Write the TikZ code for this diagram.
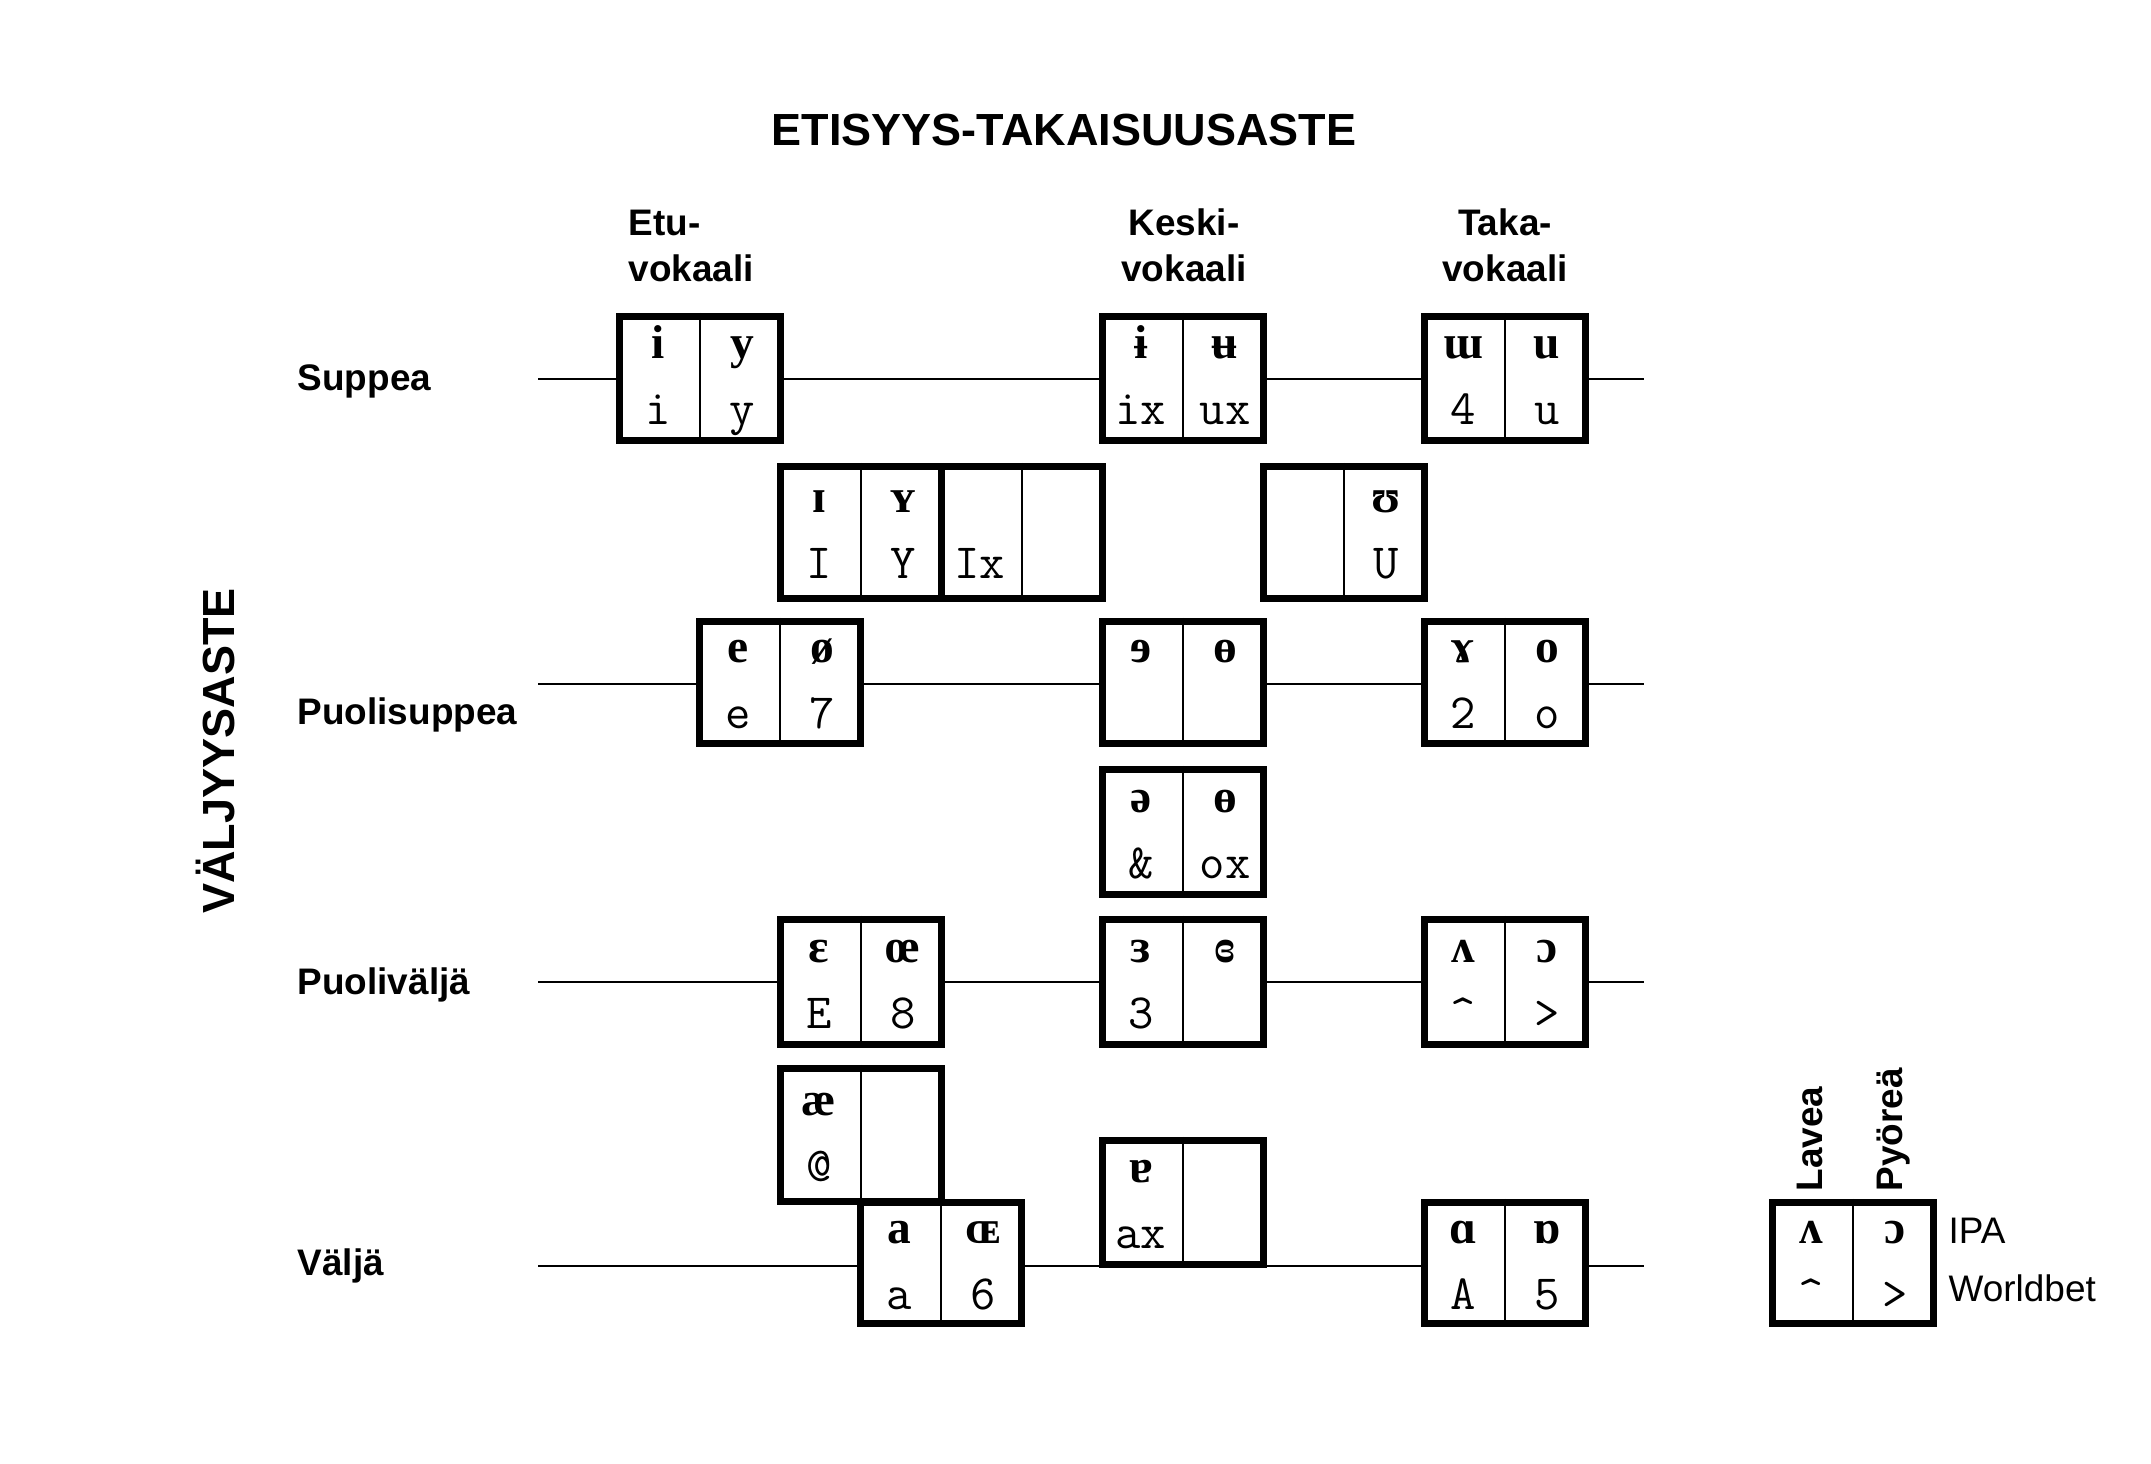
\documentclass[tikz,border=0pt]{standalone}
\usepackage{fontspec}
\setmainfont{Liberation Sans}
\newfontfamily\ipafont{Liberation Serif}

\tikzset{
  laatikko/.style={draw, line width=1.9pt, fill=white, minimum width=1.615cm, inner sep=0pt},
  jako/.style={line width=0.8pt},
  akseli/.style={line width=0.4pt},
  ipa/.style={anchor=base, inner sep=0pt, font=\ipafont\bfseries\fontsize{13.5}{15}\selectfont},
  wb/.style={anchor=base, inner sep=0pt, font=\ttfamily\fontsize{14}{16}\selectfont},
  otsikko/.style={inner sep=0pt, font=\bfseries\fontsize{12.8}{15}\selectfont},
  rivi/.style={anchor=base west, inner sep=0pt, font=\bfseries\fontsize{10.5}{13}\selectfont},
  sarake/.style={inner sep=0pt, font=\bfseries\fontsize{10.5}{13.1}\selectfont},
  selite/.style={anchor=base west, inner sep=0pt, font=\fontsize{10.5}{13}\selectfont},
}

% laatikko: [korkeus] nimi, x, y, ipa vasen, wb vasen, ipa oikea, wb oikea
\newcommand{\vokaali}[8][131]{%
  \node[laatikko, minimum height={(#1-6.5)*0.01cm}] (#2) at (#3,#4) {};
  \draw[jako] (#2.north) -- (#2.south);
  \node[ipa] (#2-i1) at ([xshift=-0.42cm, yshift=0.2cm]#2.center) {#5};
  \node[wb] (#2-w1) at ([xshift=-0.42cm, yshift=-0.46cm]#2.center) {#6};
  \node[ipa] (#2-i2) at ([xshift=0.42cm, yshift=0.2cm]#2.center) {#7};
  \node[wb] (#2-w2) at ([xshift=0.42cm, yshift=-0.46cm]#2.center) {#8};
}

\begin{document}
\begin{tikzpicture}[x=0.01cm, y=-0.01cm]
\useasboundingbox (0,0) rectangle (2151,1463);

% otsikot
\node[otsikko, anchor=base] (etisyys) at (1064,145) {ETISYYS-TAKAISUUSASTE};
\node[otsikko, rotate=90] (valjyys) at (215,751) {VÄLJYYSASTE};
\node[sarake, anchor=south west, align=left] (etu) at (628,283) {Etu-\\vokaali};
\node[sarake, anchor=south, align=center] (keski) at (1184,283) {Keski-\\vokaali};
\node[sarake, anchor=south, align=center] (taka) at (1505,283) {Taka-\\vokaali};

\node[rivi] (suppea) at (297,390) {Suppea};
\node[rivi] (puolisuppea) at (297,724) {Puolisuppea};
\node[rivi] (puolivalja) at (297,994) {Puoliväljä};
\node[rivi] (valja) at (297,1275) {Väljä};

% vaakaviivat
\coordinate (suppeaA) at (538,379);
\coordinate (suppeaB) at (1644,379);
\coordinate (puolisuppeaA) at (538,684);
\coordinate (puolisuppeaB) at (1644,684);
\coordinate (puolivaljaA) at (538,982);
\coordinate (puolivaljaB) at (1644,982);
\coordinate (valjaA) at (538,1266);
\coordinate (valjaB) at (1644,1266);
\draw[akseli] (suppeaA) -- (suppeaB);
\draw[akseli] (puolisuppeaA) -- (puolisuppeaB);
\draw[akseli] (puolivaljaA) -- (puolivaljaB);
\draw[akseli] (valjaA) -- (valjaB);

% vokaalit
\vokaali{iy}{700}{378.5}{i}{i}{y}{y}
\vokaali{ii}{1183}{378.5}{ɨ}{ix}{ʉ}{ux}
\vokaali{uu}{1505}{378.5}{ɯ}{4}{u}{u}
\vokaali[139]{ly}{861}{532.5}{ɪ}{I}{ʏ}{Y}
\vokaali[139]{lx}{1022}{532.5}{}{Ix}{}{}
\vokaali[139]{lu}{1344}{532.5}{}{}{ʊ}{U}
\vokaali[129]{ee}{780}{682.5}{e}{e}{ø}{7}
\vokaali[129]{ke}{1183}{682.5}{ɘ}{}{ɵ}{}
\vokaali[129]{oo}{1505}{682.5}{ɤ}{2}{o}{o}
\vokaali[132]{schwa}{1183}{832}{ə}{\&}{ɵ}{ox}
\vokaali[132]{ae}{861}{982}{ɛ}{E}{œ}{8}
\vokaali[132]{kae}{1183}{982}{ɜ}{3}{ɞ}{}
\vokaali[132]{ao}{1505}{982}{ʌ}{\textasciicircum}{ɔ}{>}
\vokaali[140]{aae}{861}{1135}{æ}{@}{}{}
\vokaali[128]{aa}{941}{1263}{a}{a}{ɶ}{6}
\vokaali{ka}{1183}{1202.5}{ɐ}{ax}{}{}
\vokaali[128]{ta}{1505}{1263}{ɑ}{A}{ɒ}{5}

% selite
\vokaali[128]{malli}{1853}{1263}{ʌ}{\textasciicircum}{ɔ}{>}
\node[sarake, rotate=90, anchor=west] (lavea) at (1810,1192) {Lavea};
\node[sarake, rotate=90, anchor=west] (pyorea) at (1894,1192) {Pyöreä};
\node[selite] (ipa) at (1948,1243) {IPA};
\node[selite] (worldbet) at (1948,1301) {Worldbet};
\end{tikzpicture}
\end{document}
